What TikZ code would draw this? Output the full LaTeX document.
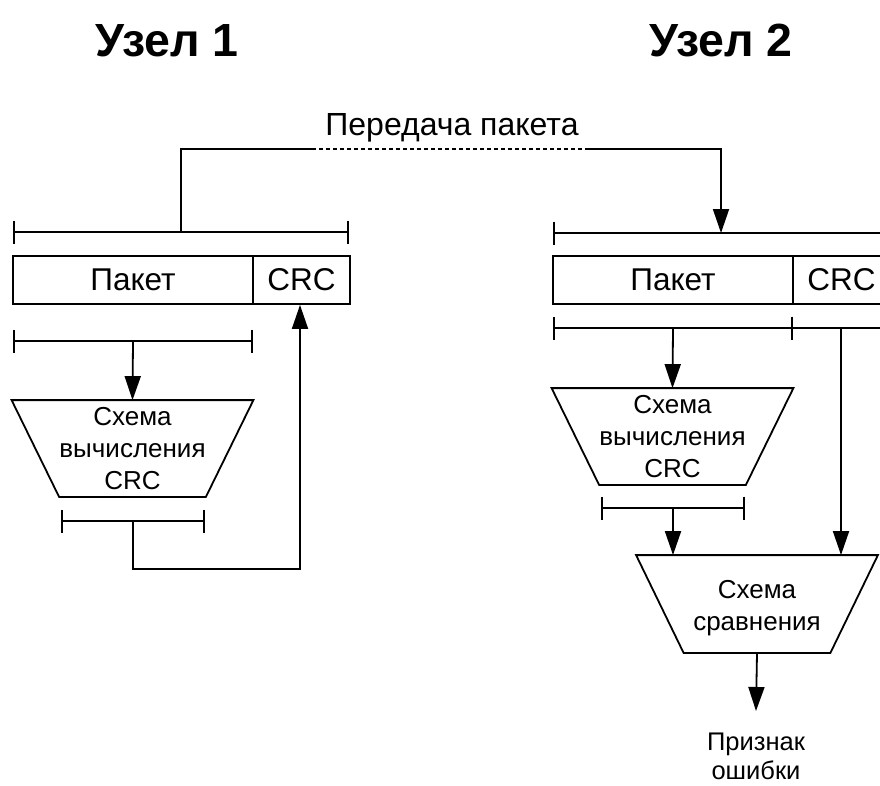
\documentclass[tikz,border=0pt]{standalone}
\usepackage{fontspec}
\setmainfont{Liberation Sans}
\usetikzlibrary{arrows.meta}
\begin{document}
\begin{tikzpicture}[x=1pt,y=-1pt,
  line width=1.8pt,
  box/.style={draw, rectangle, minimum height=48pt, inner sep=0pt,
    font=\fontsize{31.5}{36}\selectfont},
  blockshape/.style={rectangle, minimum width=240pt, minimum height=95pt,
    inner sep=0pt, align=center, font=\fontsize{26}{32}\selectfont},
  blocktext/.style={inner sep=0pt, align=center, font=\fontsize{26}{32}\selectfont},
  title/.style={anchor=base, font=\fontsize{46.5}{55}\selectfont\bfseries},
  arr/.style={-{Triangle[length=24pt,width=16pt]}},
  bus/.style={{Bar[width=23pt]}-{Bar[width=23pt]}},
  busopen/.style={{Bar[width=23pt]}-},
  dotline/.style={line width=1.4pt, dash pattern=on 4pt off 3pt},
]
\clip (0,0) rectangle (880,785);

% headings
\node[title] (node1) at (167,56) {Узел 1};
\node[title] (node2) at (721,56) {Узел 2};
\node[anchor=base, font=\fontsize{32}{38}\selectfont] (txlabel) at (452,135) {Передача пакета};

% packets
\node[box, minimum width=240pt] (pk1) at (133,280) {Пакет};
\node[box, minimum width=97pt] (crc1) at (301.5,280) {CRC};
\node[box, minimum width=240pt] (pk2) at (673,280) {Пакет};
\node[box, minimum width=97pt] (crc2) at (841.5,280) {CRC};

% processing blocks
\node[blockshape] (calc1) at (132.5,448.5) {Схема\\вычисления\\CRC};
\node[blockshape] (calc2) at (672.5,436.5) {Схема\\вычисления\\CRC};
\node[blockshape, minimum height=96pt] (cmp) at (757,604) {};
\node[blocktext] (cmptext) at (757,608) {Схема\\сравнения};
\foreach \n in {calc1,calc2,cmp}
  \draw (\n.north west) -- (\n.north east) -- ([xshift=-47.5pt]\n.south east)
        -- ([xshift=47.5pt]\n.south west) -- cycle;

\node[align=center, anchor=north, inner sep=0pt,
      font=\fontsize{25.5}{29}\selectfont] (err) at (756,732) {Признак\\ошибки};

% field brackets, node 1
\draw[bus] (13,232) -- (349,232);
\coordinate (tx) at (181,232);
\draw[bus] (13,341) -- (253,341);
\coordinate (in1) at (133,341);
\draw[bus] (61,521) -- (205,521);
\coordinate (out1) at (133,521);
\coordinate (ret1) at (300,569);

% field brackets, node 2
\draw[busopen] (553,233) -- (890,233);
\coordinate (rx) at (721,233);
\draw[bus] (553,328) -- (793,328);
\draw (793,328) -- (890,328);
\coordinate (in2) at (673,328);
\coordinate (crcin2) at (841,328);
\draw[bus] (601,508) -- (745,508);
\coordinate (out2) at (673,508);
\coordinate (flag) at (756,711);

% transmission
\coordinate (d1) at (312,149);
\coordinate (d2) at (588,149);
\draw (tx) |- (d1);
\draw[dotline] (d1) -- (d2);
\draw[arr] (d2) -| (rx);

% node 1 flow
\draw[arr] (in1) -- (calc1.north);
\draw[arr] (out1) |- (ret1) -- (ret1 |- crc1.south);

% node 2 flow
\draw[arr] (in2) -- (calc2.north);
\draw[arr] (out2) -- (out2 |- cmp.north);
\draw[arr] (crcin2) -- (crcin2 |- cmp.north);
\draw[arr] (cmp.south) -- (flag);
\end{tikzpicture}
\end{document}
